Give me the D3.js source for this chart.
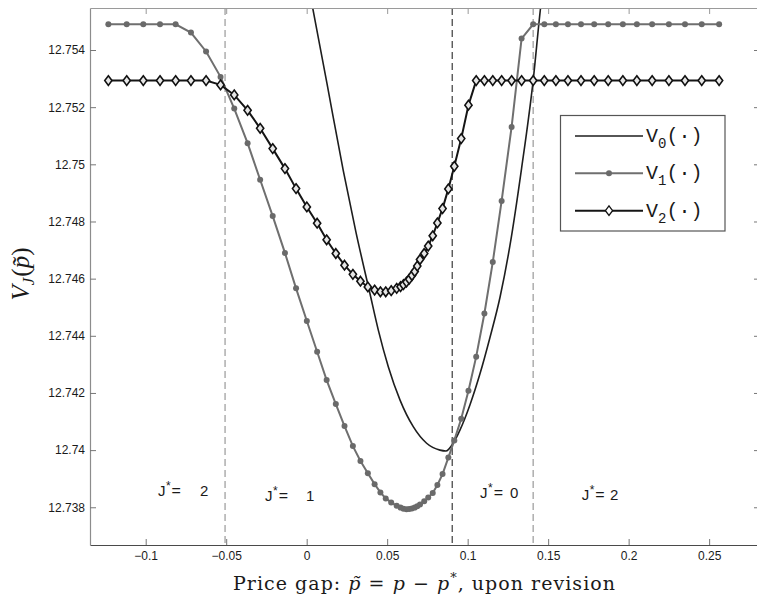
<!DOCTYPE html>
<html>
<head>
<meta charset="utf-8">
<script src="https://cdn.jsdelivr.net/npm/d3@7"></script>
<style>
  html, body { margin: 0; padding: 0; background: #fff; }
  svg { display: block; }
  text { white-space: pre; }
</style>
</head>
<body>
<svg id="chart" width="757" height="598"></svg>
<script>
// ---------- data ----------
// common price-gap grid for V1 and V2
const gridX = [
  -0.1232, -0.1118, -0.1015, -0.0911, -0.0814, -0.0719, -0.0625, -0.0535, -0.0450, -0.0367,
  -0.0289, -0.0211, -0.0135, -0.0066, 0.0001, 0.0065, 0.0124, 0.0181, 0.0235, 0.0287,
  0.0334, 0.0380, 0.0422, 0.0458, 0.0491, 0.0525, 0.0559, 0.0583, 0.0601, 0.0620,
  0.0637, 0.0654, 0.0671, 0.0687, 0.0704, 0.0730, 0.0755, 0.0783, 0.0812, 0.0844,
  0.0880, 0.0917, 0.0960, 0.1005, 0.1053, 0.1104, 0.1156, 0.1211, 0.1273, 0.1335,
  0.1407, 0.1476, 0.1548, 0.1623, 0.1704, 0.1786, 0.1873, 0.1964, 0.2051, 0.2146,
  0.2250, 0.2350, 0.2454, 0.2562
];
const v1Values = [
  12.7549, 12.7549, 12.7549, 12.7549, 12.7549, 12.75461, 12.75395, 12.75306, 12.75195, 12.75074,
  12.74946, 12.74819, 12.74690, 12.74566, 12.74452, 12.74344, 12.74245, 12.74161, 12.74084, 12.74014,
  12.73962, 12.73919, 12.73881, 12.73852, 12.73831, 12.73817, 12.73805, 12.73799, 12.73795, 12.73793,
  12.73794, 12.73796, 12.73799, 12.73804, 12.73810, 12.73821, 12.73834, 12.73850, 12.73878, 12.73916,
  12.73974, 12.74034, 12.74110, 12.74208, 12.74327, 12.74478, 12.74658, 12.74872, 12.75131, 12.75440,
  12.7549, 12.7549, 12.7549, 12.7549, 12.7549, 12.7549, 12.7549, 12.7549, 12.7549, 12.7549,
  12.7549, 12.7549, 12.7549, 12.7549
];
const v2Values = [
  12.75293, 12.75293, 12.75293, 12.75293, 12.75293, 12.75293, 12.75293, 12.75278, 12.75243, 12.75189,
  12.75126, 12.75055, 12.74985, 12.74915, 12.74851, 12.74794, 12.74736, 12.74688, 12.74647, 12.74615,
  12.74591, 12.74571, 12.74560, 12.74554, 12.74554, 12.74558, 12.74566, 12.74572, 12.74579, 12.74588,
  12.74598, 12.74611, 12.74625, 12.74644, 12.74667, 12.74688, 12.74714, 12.74750, 12.74795, 12.74845,
  12.74914, 12.74993, 12.75090, 12.75207, 12.75293, 12.75293, 12.75293, 12.75293, 12.75293, 12.75293,
  12.75293, 12.75293, 12.75293, 12.75293, 12.75293, 12.75293, 12.75293, 12.75293, 12.75293, 12.75293,
  12.75293, 12.75293, 12.75293, 12.75293
];
// V0 (smooth curve)
const v0X = [0.0005, 0.0037, 0.0126, 0.0227, 0.0306, 0.0393, 0.0445, 0.0507, 0.0580, 0.0662,
             0.0745, 0.0828, 0.0865, 0.0911, 0.0952, 0.1014, 0.1076, 0.1139, 0.1201, 0.1263,
             0.1335, 0.1407, 0.1453, 0.1474];
const v0Y = [12.75644, 12.75548, 12.75283, 12.74979, 12.74763, 12.74548, 12.74420, 12.74292, 12.74175, 12.74082,
             12.74024, 12.74000, 12.73997, 12.74025, 12.74070, 12.74158, 12.74266, 12.74395, 12.74535, 12.74717,
             12.74986, 12.75294, 12.75548, 12.75644];

// regime boundaries (dashed verticals)
const boundaryX = [-0.0507, 0.0904, 0.1407];
const boundaryStyle = ["gray", "black", "gray"];

// regime annotations
const regimeText = ["2", "1", "0", "2"];
const regimeX    = [-0.0924, -0.0259, 0.1077, 0.1708];
const regimeNumX = [-0.0663, -0.0004, 0.1263, 0.1884];
const regimeY    = [12.73840, 12.73822, 12.73833, 12.73826];

const xTicks = [-0.1, -0.05, 0, 0.05, 0.1, 0.15, 0.2, 0.25];
const xTickLabels = ["\u22120.1", "\u22120.05", "0", "0.05", "0.1", "0.15", "0.2", "0.25"];
const yTicks = [12.738, 12.740, 12.742, 12.744, 12.746, 12.748, 12.750, 12.752, 12.754];
const yTickLabels = ["12.738", "12.74", "12.742", "12.744", "12.746", "12.748", "12.75", "12.752", "12.754"];

const seriesNames = ["0", "1", "2"];

// ---------- chart ----------
const svg = d3.select("#chart");
const L = 90, R = 760, T = 8, B = 545;

const x = d3.scaleLinear().domain([-0.1346, 0.2816]).range([L, R]);
const y = d3.scaleLinear().domain([12.73668, 12.75547]).range([B, T]);

svg.append("defs").append("clipPath").attr("id", "clip")
  .append("rect").attr("x", L).attr("y", T).attr("width", R - L).attr("height", B - T);

const plot = svg.append("g").attr("clip-path", "url(#clip)");

// dashed verticals
plot.selectAll("line.bound").data(boundaryX).join("line")
  .attr("class", "bound")
  .attr("x1", d => x(d)).attr("x2", d => x(d))
  .attr("y1", T).attr("y2", B)
  .attr("stroke", (d, i) => boundaryStyle[i] === "gray" ? "#a8a8a8" : "#2a2a2a")
  .attr("stroke-width", (d, i) => boundaryStyle[i] === "gray" ? 1.4 : 1.1)
  .attr("stroke-dasharray", "7,4");

// V0
const v0Data = v0X.map((d, i) => [d, v0Y[i]]);
plot.append("path").datum(v0Data)
  .attr("fill", "none").attr("stroke", "#1e1e1e").attr("stroke-width", 1.6)
  .attr("d", d3.line().x(d => x(d[0])).y(d => y(d[1])).curve(d3.curveMonotoneX));

// V1
const v1Data = gridX.map((d, i) => [d, v1Values[i]]);
plot.append("path").datum(v1Data)
  .attr("fill", "none").attr("stroke", "#6f6f6f").attr("stroke-width", 2)
  .attr("d", d3.line().x(d => x(d[0])).y(d => y(d[1])));
plot.selectAll("circle.v1").data(v1Data).join("circle")
  .attr("class", "v1")
  .attr("cx", d => x(d[0])).attr("cy", d => y(d[1])).attr("r", 3)
  .attr("fill", "#6a6a6a");

// V2
const v2Data = gridX.map((d, i) => [d, v2Values[i]]);
plot.append("path").datum(v2Data)
  .attr("fill", "none").attr("stroke", "#151515").attr("stroke-width", 2)
  .attr("d", d3.line().x(d => x(d[0])).y(d => y(d[1])));
const diamond = "M0,-4.8L3.6,0L0,4.8L-3.6,0Z";
plot.selectAll("path.v2").data(v2Data).join("path")
  .attr("class", "v2")
  .attr("transform", d => `translate(${x(d[0])},${y(d[1])})`)
  .attr("d", diamond)
  .attr("fill", "#e6e6e6").attr("stroke", "#111").attr("stroke-width", 1.6);

// axes
const fmtX = (d) => xTickLabels[xTicks.indexOf(d)];
const fmtY = (d) => yTickLabels[yTicks.indexOf(d)];
const gx = svg.append("g").attr("transform", `translate(0,${B})`)
  .call(d3.axisBottom(x).tickValues(xTicks).tickFormat(fmtX).tickSizeInner(-6).tickSizeOuter(0).tickPadding(6.5));
const gy = svg.append("g").attr("transform", `translate(${L},0)`)
  .call(d3.axisLeft(y).tickValues(yTicks).tickFormat(fmtY).tickSizeInner(-6).tickSizeOuter(0).tickPadding(5));
const gt = svg.append("g").attr("transform", `translate(0,${T})`)
  .call(d3.axisTop(x).tickValues(xTicks).tickFormat("").tickSizeInner(-6).tickSizeOuter(0));
const gr = svg.append("g").attr("transform", `translate(${R},0)`)
  .call(d3.axisRight(y).tickValues(yTicks).tickFormat("").tickSizeInner(-6).tickSizeOuter(0));

[gx, gy, gt, gr].forEach(g => {
  g.selectAll("text").attr("font-family", "'Liberation Sans', Arial, Helvetica, sans-serif")
    .attr("font-size", 12).attr("fill", "#1a1a1a");
});
gx.select(".domain").attr("stroke", "#4a4a4a").attr("stroke-width", 1.2);
gy.select(".domain").attr("stroke", "#8c8c8c").attr("stroke-width", 1.2);
gt.select(".domain").attr("stroke", "#9a9a9a").attr("stroke-width", 1.2);
gr.select(".domain").attr("stroke", "#9a9a9a");
gx.selectAll(".tick line").attr("stroke", "#777");
gy.selectAll(".tick line").attr("stroke", "#777");
gt.selectAll(".tick line").attr("stroke", "#999");
gr.selectAll(".tick line").attr("stroke", "#777");

// regime annotations
const ann = svg.append("g")
  .attr("font-family", "'Liberation Sans', Arial, Helvetica, sans-serif")
  .attr("font-size", 15).attr("fill", "#1a1a1a");
regimeText.forEach((t, i) => {
  const tx = ann.append("text").attr("x", x(regimeX[i])).attr("y", y(regimeY[i]));
  tx.append("tspan").text("J");
  tx.append("tspan").attr("font-size", 12).attr("dx", 0.5).attr("dy", -6).text("*");
  tx.append("tspan").attr("font-size", 16).attr("dx", 1).attr("dy", 6).text("=");
  ann.append("text").attr("x", x(regimeNumX[i])).attr("y", y(regimeY[i])).text(t);
});

// legend
const lg = svg.append("g");
lg.append("rect").attr("x", 560.5).attr("y", 115.5).attr("width", 164.5).attr("height", 115.5)
  .attr("fill", "#fff").attr("stroke", "#555").attr("stroke-width", 1.2);
const legY = [136, 173.3, 210.7];
const legColor = ["#1e1e1e", "#6f6f6f", "#151515"];
seriesNames.forEach((n, i) => {
  lg.append("line").attr("x1", 575).attr("x2", 643).attr("y1", legY[i]).attr("y2", legY[i])
    .attr("stroke", legColor[i]).attr("stroke-width", i === 0 ? 1.6 : 2);
  if (i === 1) {
    lg.append("circle").attr("cx", 609).attr("cy", legY[i]).attr("r", 3).attr("fill", "#6a6a6a");
  } else if (i === 2) {
    lg.append("path").attr("transform", `translate(609,${legY[i]})`).attr("d", diamond)
      .attr("fill", "#fff").attr("stroke", "#111").attr("stroke-width", 1.3);
  }
  const t = lg.append("text").attr("x", 646).attr("y", legY[i] + 5.8)
    .attr("font-family", "'Courier New', Courier, 'Liberation Mono', monospace")
    .attr("font-size", 20).attr("fill", "#1a1a1a");
  t.append("tspan").text("V");
  t.append("tspan").attr("font-size", 14).attr("dy", 6).text(n);
  t.append("tspan").attr("dy", -6).text("(\u00b7)");
});

// axis titles
const yl = svg.append("text")
  .attr("transform", "translate(29,274) rotate(-90)")
  .attr("text-anchor", "middle")
  .attr("font-family", "'Liberation Serif', 'DejaVu Serif', serif")
  .attr("font-size", 25).attr("fill", "#1a1a1a");
yl.append("tspan").attr("font-style", "italic").text("V");
yl.append("tspan").attr("font-style", "italic").attr("font-size", 17).attr("dy", 5).text("J");
yl.append("tspan").attr("dx", 1).attr("dy", -5).text("(");
yl.append("tspan").attr("font-style", "italic").text("p\u0303");
yl.append("tspan").text(")");

const xl = svg.append("text")
  .attr("x", 233).attr("y", 590)
  .attr("textLength", 382).attr("lengthAdjust", "spacing")
  .attr("font-family", "'DejaVu Serif', 'Liberation Serif', serif")
  .attr("font-size", 19).attr("fill", "#1a1a1a");
xl.append("tspan").text("Price gap: ");
xl.append("tspan").attr("font-style", "italic").text("p\u0303");
xl.append("tspan").text(" = ");
xl.append("tspan").attr("font-style", "italic").text("p");
xl.append("tspan").text(" \u2212 ");
xl.append("tspan").attr("font-style", "italic").text("p");
xl.append("tspan").attr("font-size", 13).attr("dy", -8).text("*");
xl.append("tspan").attr("dy", 8).text(", upon revision");
</script>
</body>
</html>
